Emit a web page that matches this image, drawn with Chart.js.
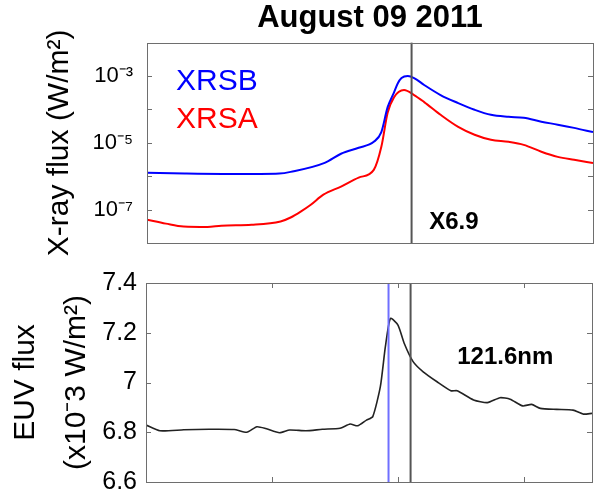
<!DOCTYPE html>
<html>
<head>
<meta charset="utf-8">
<script src="https://cdn.jsdelivr.net/npm/chart.js@4.4.1/dist/chart.umd.min.js"></script>
<style>
  html, body { margin: 0; padding: 0; background: #fff; }
  #wrap { position: relative; width: 595px; height: 503px; overflow: hidden; }
  #xray-chart { position: absolute; left: 0; top: 0; }
  #euv-chart  { position: absolute; left: 0; top: 250px; }
</style>
</head>
<body>
<div id="wrap">
  <canvas id="euv-chart" width="595" height="253"></canvas>
  <canvas id="xray-chart" width="595" height="280"></canvas>
</div>
<script>
'use strict';

// ─────────────────────────────────────────────
// DATA  (time in decimal hours UT)
// ─────────────────────────────────────────────

const xrsbTime = [6.00, 6.30, 6.60, 6.90, 7.05, 7.14, 7.41, 7.54, 7.68, 7.80, 7.86, 7.91, 7.96, 7.99, 8.02, 8.07, 8.12, 8.20, 8.33, 8.47, 8.60, 8.73, 8.87, 8.99, 9.13, 9.26, 9.39, 9.54];
const xrsbFlux = [1.26e-6, 1.20e-6, 1.17e-6, 1.17e-6, 1.20e-6, 1.35e-6, 2.5e-6, 4.7e-6, 7.1e-6, 1.07e-5, 2.1e-5, 1.17e-4, 3.2e-4, 6.0e-4, 8.7e-4, 1.0e-3, 8.7e-4, 5.4e-4, 2.7e-4, 1.55e-4, 9.8e-5, 6.9e-5, 6.0e-5, 5.6e-5, 4.3e-5, 3.5e-5, 2.8e-5, 2.1e-5];

const xrsaTime = [6.00, 6.15, 6.29, 6.48, 6.59, 6.83, 7.06, 7.14, 7.22, 7.30, 7.40, 7.54, 7.68, 7.80, 7.86, 7.91, 7.96, 8.04, 8.12, 8.20, 8.33, 8.47, 8.60, 8.73, 8.87, 8.99, 9.13, 9.26, 9.39, 9.54];
const xrsaFlux = [5.0e-8, 3.8e-8, 3.1e-8, 3.0e-8, 3.3e-8, 3.5e-8, 4.4e-8, 5.8e-8, 8.7e-8, 1.4e-7, 2.8e-7, 4.9e-7, 9.1e-7, 1.55e-6, 7.6e-6, 7.9e-5, 2.3e-4, 3.8e-4, 2.7e-4, 1.66e-4, 6.9e-5, 3.0e-5, 1.74e-5, 1.23e-5, 1.07e-5, 8.7e-6, 5.4e-6, 3.8e-6, 3.1e-6, 2.5e-6];

const euvTime = [6.00, 6.11, 6.30, 6.50, 6.70, 6.80, 6.88, 6.95, 7.06, 7.14, 7.27, 7.40, 7.54, 7.62, 7.68, 7.75, 7.80, 7.86, 7.90, 7.94, 8.00, 8.05, 8.12, 8.20, 8.31, 8.42, 8.47, 8.60, 8.71, 8.81, 8.89, 8.99, 9.06, 9.13, 9.26, 9.39, 9.47, 9.54];
const euvFlux = [6.829, 6.806, 6.810, 6.812, 6.811, 6.800, 6.822, 6.815, 6.798, 6.809, 6.806, 6.812, 6.816, 6.833, 6.826, 6.849, 6.863, 6.983, 7.144, 7.258, 7.231, 7.157, 7.084, 7.043, 7.003, 6.967, 6.967, 6.930, 6.919, 6.939, 6.933, 6.906, 6.912, 6.896, 6.892, 6.889, 6.873, 6.876];

const timeRange   = [6.0, 9.54];
const timeTicks   = [7, 8, 9];
const xrayTicks   = [1e-8, 1e-7, 1e-6, 1e-5, 1e-4, 1e-3, 1e-2];
const xrayLabeled = [-7, -5, -3];
const euvTicks    = [6.6, 6.8, 7.0, 7.2, 7.4];

const flarePeakTime = 8.10;   // X6.9 peak (black line)
const euvPeakTime   = 7.925;  // 121.6 nm peak (blue line)

const FONT = "'Liberation Sans', Arial, Helvetica, sans-serif";
const BOX_COLOR = '#6e6e6e';

// ─────────────────────────────────────────────
// HELPERS
// ─────────────────────────────────────────────

const SUP = { '-': '\u207B', '0': '\u2070', '1': '\u00B9', '2': '\u00B2', '3': '\u00B3', '4': '\u2074',
              '5': '\u2075', '6': '\u2076', '7': '\u2077', '8': '\u2078', '9': '\u2079' };

function toSup(str) {
  return String(str).split('').map(c => SUP[c] || c).join('');
}

function pairs(xs, ys) {
  return xs.map((x, i) => ({ x, y: ys[i] }));
}

// keep the plot box where we put it: no extra room for edge tick labels
function pinAxis(width) {
  return s => {
    s.width = width;
    s.paddingTop = 0;
    s.paddingBottom = 0;
  };
}

// Box, inward ticks, vertical markers and text labels
const framePlugin = {
  id: 'frame',
  afterDatasetsDraw(chart, args, opts) {
    const { ctx, chartArea: a, scales } = chart;
    ctx.save();

    // vertical markers
    (opts.markers || []).forEach(m => {
      const px = scales.x.getPixelForValue(m.x);
      ctx.strokeStyle = m.color;
      ctx.lineWidth = m.width;
      ctx.beginPath();
      ctx.moveTo(px, a.top);
      ctx.lineTo(px, a.bottom);
      ctx.stroke();
    });

    // box
    ctx.strokeStyle = BOX_COLOR;
    ctx.lineWidth = 1;
    ctx.strokeRect(Math.round(a.left) + 0.5, Math.round(a.top) + 0.5,
                   Math.round(a.right - a.left), Math.round(a.bottom - a.top));

    // inward ticks
    const len = 5;
    ctx.beginPath();
    (opts.yTicks || []).forEach(v => {
      const py = Math.round(scales.y.getPixelForValue(v)) + 0.5;
      ctx.moveTo(a.left, py);  ctx.lineTo(a.left + len, py);
      ctx.moveTo(a.right, py); ctx.lineTo(a.right - len, py);
    });
    (opts.xTicks || []).forEach(v => {
      const px = Math.round(scales.x.getPixelForValue(v)) + 0.5;
      ctx.moveTo(px, a.top);    ctx.lineTo(px, a.top + len);
      ctx.moveTo(px, a.bottom); ctx.lineTo(px, a.bottom - len);
    });
    ctx.stroke();

    // text labels
    (opts.labels || []).forEach(l => {
      ctx.font = l.font;
      ctx.fillStyle = l.color;
      ctx.textAlign = 'left';
      ctx.textBaseline = 'middle';
      ctx.fillText(l.text, scales.x.getPixelForValue(l.x), scales.y.getPixelForValue(l.y));
    });

    ctx.restore();
  }
};

// ─────────────────────────────────────────────
// X-RAY CHART
// ─────────────────────────────────────────────

new Chart(document.getElementById('xray-chart'), {
  type: 'line',
  data: {
    datasets: [
      { label: 'XRSB', data: pairs(xrsbTime, xrsbFlux), borderColor: '#0000ff', borderWidth: 2,
        pointRadius: 0, cubicInterpolationMode: 'monotone' },
      { label: 'XRSA', data: pairs(xrsaTime, xrsaFlux), borderColor: '#ff0000', borderWidth: 2,
        pointRadius: 0, cubicInterpolationMode: 'monotone' },
    ]
  },
  options: {
    responsive: false,
    animation: false,
    layout: { padding: { left: 0, right: 2, top: 0, bottom: 37 } },
    plugins: {
      legend: { display: false },
      tooltip: { enabled: false },
      title: {
        display: true,
        fullSize: false,
        text: 'August 09 2011',
        color: '#000',
        font: { family: FONT, size: 31, weight: 'bold', lineHeight: 1.15 },
        padding: { top: 1, bottom: 6 },
      },
      frame: {
        yTicks: xrayTicks,
        markers: [{ x: flarePeakTime, color: '#555555', width: 2 }],
        labels: [
          { text: 'XRSB', x: 6.23, y: 6.6e-4, color: '#0000ff', font: `30px ${FONT}` },
          { text: 'XRSA', x: 6.23, y: 4.9e-5, color: '#ff0000', font: `30px ${FONT}` },
          { text: 'X6.9', x: 8.24, y: 4.1e-8, color: '#000', font: `bold 24px ${FONT}` },
        ],
      },
    },
    scales: {
      x: {
        type: 'linear', min: timeRange[0], max: timeRange[1],
        display: false,
      },
      y: {
        type: 'logarithmic', min: xrayTicks[0], max: xrayTicks[xrayTicks.length - 1],
        afterBuildTicks: s => { s.ticks = xrayTicks.map(v => ({ value: v })); },
        afterFit: pinAxis(147),
        grid: { display: false, drawTicks: false },
        border: { display: false },
        ticks: {
          padding: 14,
          color: '#000',
          font: { family: FONT, size: 22 },
          callback: v => {
            const e = Math.round(Math.log10(v));
            return xrayLabeled.includes(e) ? '10' + toSup(e) : '';
          },
        },
        title: {
          display: true,
          text: 'X-ray flux (W/m\u00B2)',
          color: '#000',
          font: { family: FONT, size: 30, lineHeight: 1.2 },
          padding: { top: 42, bottom: 0 },
        },
      },
    },
  },
  plugins: [framePlugin],
});

// ─────────────────────────────────────────────
// EUV CHART
// ─────────────────────────────────────────────

new Chart(document.getElementById('euv-chart'), {
  type: 'line',
  data: {
    datasets: [
      { label: '121.6nm', data: pairs(euvTime, euvFlux), borderColor: '#222222', borderWidth: 1.6,
        pointRadius: 0, tension: 0.2 },
    ]
  },
  options: {
    responsive: false,
    animation: false,
    layout: { padding: { left: 0, right: 3, top: 33, bottom: 21 } },
    plugins: {
      legend: { display: false },
      tooltip: { enabled: false },
      frame: {
        yTicks: euvTicks,
        xTicks: timeTicks,
        markers: [
          { x: euvPeakTime, color: '#6f6fff', width: 2 },
          { x: flarePeakTime, color: '#555555', width: 2 },
        ],
        labels: [
          { text: '121.6nm', x: 8.47, y: 7.10, color: '#000', font: `bold 24px ${FONT}` },
        ],
      },
    },
    scales: {
      x: {
        type: 'linear', min: timeRange[0], max: timeRange[1],
        display: false,
      },
      y: {
        type: 'linear', min: euvTicks[0], max: euvTicks[euvTicks.length - 1],
        afterBuildTicks: s => { s.ticks = euvTicks.map(v => ({ value: v })); },
        afterFit: pinAxis(146),
        grid: { display: false, drawTicks: false },
        border: { display: false },
        ticks: {
          padding: 9,
          color: '#000',
          font: { family: FONT, size: 25 },
          callback: v => String(Math.round(v * 10) / 10),
        },
        title: {
          display: true,
          text: ['EUV flux', '(x10\u207B3 W/m\u00B2)'],
          color: '#000',
          font: { family: FONT, size: 30, lineHeight: 1.7 },
          padding: { top: 0, bottom: 0 },
        },
      },
    },
  },
  plugins: [framePlugin],
});
</script>
</body>
</html>
